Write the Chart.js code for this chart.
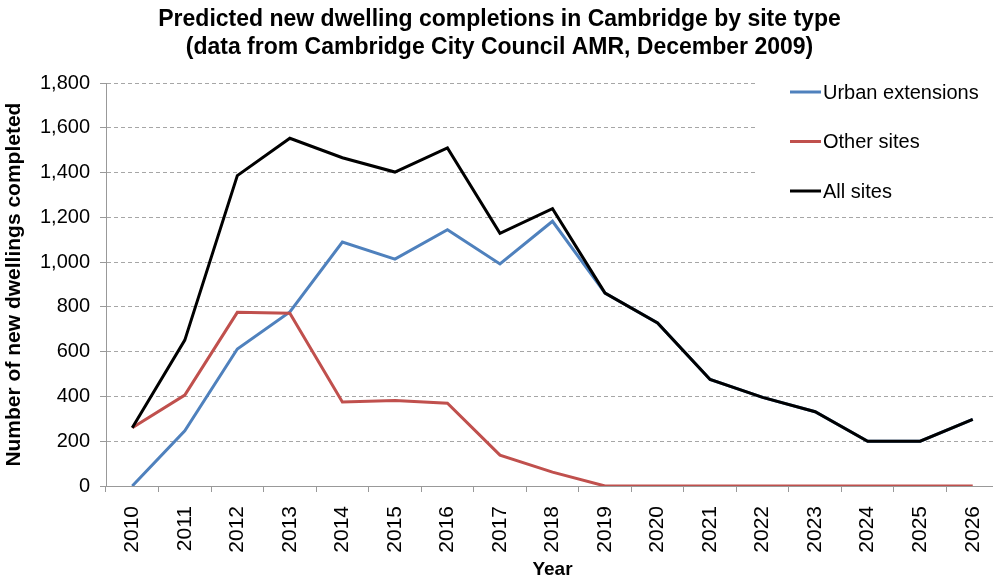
<!DOCTYPE html>
<html>
<head>
<meta charset="utf-8">
<title>Predicted new dwelling completions in Cambridge</title>
<script src="https://cdn.jsdelivr.net/npm/chart.js@4/dist/chart.umd.min.js"></script>
<style>
  html, body { margin: 0; padding: 0; background: #fff; overflow: hidden; }
  #wrap { width: 999px; height: 581px; }
</style>
</head>
<body>
<div id="wrap"><canvas id="chart"></canvas></div>
<script>
// Completions per year, from the December 2009 AMR trajectory
const years = ['2010', '2011', '2012', '2013', '2014', '2015', '2016', '2017', '2018',
  '2019', '2020', '2021', '2022', '2023', '2024', '2025', '2026'];
const urbanExtensions = [0, 247, 612, 778, 1090, 1014, 1145, 992, 1183, 862, 729, 476, 396, 332, 200, 200, 298];
const otherSites = [260, 406, 776, 772, 375, 382, 370, 138, 62, 0, 0, 0, 0, 0, 0, 0, 0];
const allSites = [260, 652, 1387, 1554, 1467, 1403, 1511, 1129, 1239, 862, 729, 476, 396, 332, 200, 200, 298];

const FONT = "'Liberation Sans', Arial, sans-serif";

// Legend sits in a white box over the top-right of the plot
const boxLegend = {
  id: 'boxLegend',
  afterDraw(chart) {
    const ctx = chart.ctx;
    ctx.save();
    ctx.fillStyle = '#fff';
    ctx.fillRect(755, 70, 250, 135);
    ctx.font = '20px ' + FONT;
    ctx.textBaseline = 'middle';
    chart.data.datasets.forEach((ds, i) => {
      const y = 92 + i * 49.5;
      ctx.strokeStyle = ds.borderColor;
      ctx.lineWidth = 3;
      ctx.beginPath();
      ctx.moveTo(790, y);
      ctx.lineTo(821, y);
      ctx.stroke();
      ctx.fillStyle = '#000';
      ctx.fillText(ds.label, 823, y + 1);
    });
    ctx.restore();
  }
};

const lineStyle = { borderWidth: 3, pointRadius: 0, tension: 0, fill: false };

new Chart(document.getElementById('chart'), {
  type: 'line',
  data: {
    labels: years,
    datasets: [
      { label: 'Urban extensions', data: urbanExtensions, borderColor: '#4f81bd', order: 2, ...lineStyle },
      { label: 'Other sites', data: otherSites, borderColor: '#c0504d', order: 1, ...lineStyle },
      { label: 'All sites', data: allSites, borderColor: '#000000', order: 0, ...lineStyle }
    ]
  },
  options: {
    responsive: true,
    maintainAspectRatio: false,
    animation: false,
    layout: { padding: 0 },
    plugins: {
      legend: { display: false },
      tooltip: { enabled: false },
      title: {
        display: true,
        text: ['Predicted new dwelling completions in Cambridge by site type',
               '(data from Cambridge City Council AMR, December 2009)'],
        color: '#000',
        font: { family: FONT, size: 23, weight: 'bold', lineHeight: 1.2 },
        padding: { top: 6, bottom: 22 }
      }
    },
    scales: {
      x: {
        offset: true,
        afterFit(scale) {
          scale.height = 95;
          scale.paddingLeft = 0;
          scale.paddingRight = 0;
        },
        grid: { offset: true, drawOnChartArea: false, tickLength: 6, color: '#999' },
        border: { color: '#999' },
        ticks: { maxRotation: 90, minRotation: 90, padding: 14, color: '#000', font: { family: FONT, size: 21 } },
        title: { display: true, text: 'Year', color: '#000', padding: { top: 0, bottom: 0 },
                 font: { family: FONT, size: 19, weight: 'bold' } }
      },
      y: {
        min: 0,
        max: 1800,
        afterFit(scale) { scale.width = 106; },
        grid: { color: '#a6a6a6', tickLength: 6, tickColor: '#999' },
        border: { color: '#999', dash: [4, 3] },
        ticks: {
          stepSize: 200,
          padding: 10,
          color: '#000',
          font: { family: FONT, size: 20 },
          callback: v => v.toLocaleString('en-US')
        },
        title: { display: true, text: 'Number of new dwellings completed', color: '#000',
                 padding: { top: 2, bottom: 0 }, font: { family: FONT, size: 21, weight: 'bold' } }
      }
    }
  },
  plugins: [boxLegend]
});
</script>
</body>
</html>
